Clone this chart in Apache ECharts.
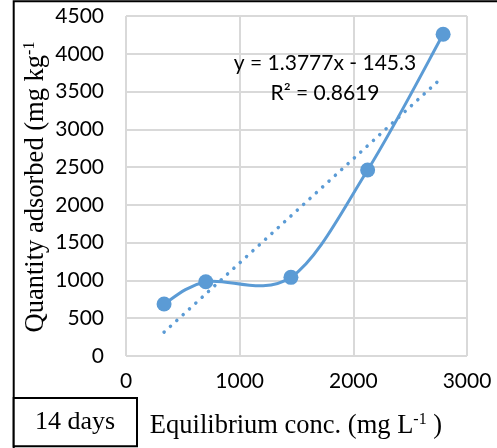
<!DOCTYPE html>
<html>
<head>
<meta charset="utf-8">
<script src="https://cdn.jsdelivr.net/npm/echarts@6/dist/echarts.min.js"></script>
<style>
  html, body { margin: 0; padding: 0; background: #fff; }
  #chart { width: 497px; height: 448px; }
</style>
</head>
<body>
<div id="chart"></div>
<script>
// Equilibrium concentration (mg L-1) and quantity adsorbed (mg kg-1), 14 days
const eqConc = [335, 702, 1451, 2126, 2790];
const adsorbed = [688, 983, 1041, 2462, 4258];

// Linear fit stated on the chart
const slope = 1.3777;
const intercept = -145.3;
const r2 = 0.8619;

const xTicks = [0, 1000, 2000, 3000];
const yTicks = [0, 500, 1000, 1500, 2000, 2500, 3000, 3500, 4000, 4500];

const blue = '#5b9bd5';
const grid = '#d9d9d9';
const tickFont = 'Lato';
const serif = '"Liberation Serif", "DejaVu Serif", serif';

const points = eqConc.map((x, i) => [x, adsorbed[i]]);
const xMinData = Math.min(...eqConc);
const xMaxData = Math.max(...eqConc);
const trend = [xMinData, xMaxData].map(x => [x, slope * x + intercept]);

// Smoothed connector: cubic Bezier segment between consecutive points,
// with control handles taken from the neighbouring points (Catmull-Rom style).
function renderSmoothSegment(params, api) {
  const i = params.dataIndex;
  const n = points.length;
  if (i >= n - 1) return null;
  const p = k => api.coord(points[Math.max(0, Math.min(n - 1, k))]);
  const p0 = p(i - 1), p1 = p(i), p2 = p(i + 1), p3 = p(i + 2);
  const t = 1 / 6;
  return {
    type: 'bezierCurve',
    shape: {
      x1: p1[0], y1: p1[1],
      cpx1: p1[0] + (p2[0] - p0[0]) * t,
      cpy1: p1[1] + (p2[1] - p0[1]) * t,
      cpx2: p2[0] - (p3[0] - p1[0]) * t,
      cpy2: p2[1] - (p3[1] - p1[1]) * t,
      x2: p2[0], y2: p2[1]
    },
    style: { stroke: blue, lineWidth: 3, fill: null, lineCap: 'round' }
  };
}

const chart = echarts.init(document.getElementById('chart'), null, { renderer: 'canvas' });

chart.setOption({
  backgroundColor: '#fff',
  animation: false,
  grid: { left: 126, right: 30, top: 16, bottom: 92 },
  xAxis: {
    type: 'value',
    min: xTicks[0],
    max: xTicks[xTicks.length - 1],
    interval: xTicks[1] - xTicks[0],
    axisLine: { show: false },
    axisTick: { show: false },
    axisLabel: { color: '#000', fontFamily: tickFont, fontSize: 21, margin: 15, formatter: v => String(v) },
    splitLine: { show: true, lineStyle: { color: grid, width: 2 } }
  },
  yAxis: {
    type: 'value',
    min: yTicks[0],
    max: yTicks[yTicks.length - 1],
    interval: yTicks[1] - yTicks[0],
    axisLine: { show: false },
    axisTick: { show: false },
    axisLabel: { color: '#000', fontFamily: tickFont, fontSize: 21, margin: 22, formatter: v => String(v) },
    splitLine: { show: true, lineStyle: { color: grid, width: 2 } }
  },
  series: [
    {
      type: 'line',
      data: trend,
      symbol: 'none',
      silent: true,
      lineStyle: { color: blue, width: 3.5, type: [0.1, 8.5], cap: 'round' },
      z: 2
    },
    {
      type: 'custom',
      data: points,
      renderItem: renderSmoothSegment,
      silent: true,
      clip: true,
      z: 3
    },
    {
      type: 'scatter',
      data: points,
      symbol: 'circle',
      symbolSize: 15,
      itemStyle: { color: blue, opacity: 1 },
      z: 4
    }
  ],
  graphic: [
    // outer frame (top and left edges)
    {
      type: 'polyline',
      shape: { points: [[13.7, 448], [13.7, 1.2], [497, 1.2]] },
      style: { stroke: '#000', lineWidth: 2, fill: null },
      z: 10
    },
    // "14 days" box
    {
      type: 'rect',
      shape: { x: 13.7, y: 398, width: 123.3, height: 48.3 },
      style: { stroke: '#000', lineWidth: 2, fill: '#fff' },
      z: 10
    },
    {
      type: 'text',
      x: 75, y: 422,
      style: {
        text: '14 days',
        font: '26px ' + serif,
        fill: '#000',
        textAlign: 'center',
        textVerticalAlign: 'middle'
      },
      z: 11
    },
    // x-axis title
    {
      type: 'text',
      x: 296, y: 425,
      style: {
        text: '{n|Equilibrium conc. (mg L}{s|-1}{n| )}',
        rich: {
          n: { fontFamily: serif, fontSize: 26.5, fill: '#000', lineHeight: 30, verticalAlign: 'bottom' },
          s: { fontFamily: serif, fontSize: 16, fill: '#000', lineHeight: 30, verticalAlign: 'top', padding: [2, 0, 0, 0] }
        },
        textAlign: 'center',
        textVerticalAlign: 'middle'
      },
      z: 11
    },
    // y-axis title
    {
      type: 'text',
      x: 35, y: 187,
      rotation: Math.PI / 2,
      style: {
        text: '{n|Quantity adsorbed (mg kg}{s|-1}',
        rich: {
          n: { fontFamily: serif, fontSize: 26.5, fill: '#000', lineHeight: 30, verticalAlign: 'bottom' },
          s: { fontFamily: serif, fontSize: 16, fill: '#000', lineHeight: 30, verticalAlign: 'top', padding: [2, 0, 0, 0] }
        },
        textAlign: 'center',
        textVerticalAlign: 'middle'
      },
      z: 11
    },
    // trendline equation
    {
      type: 'text',
      x: 325, y: 78,
      style: {
        text: 'y = ' + slope + 'x - ' + Math.abs(intercept) + '\nR² = ' + r2,
        font: '21px ' + tickFont,
        lineHeight: 30,
        fill: '#000',
        textAlign: 'center',
        textVerticalAlign: 'middle'
      },
      z: 11
    }
  ]
});
</script>
</body>
</html>
